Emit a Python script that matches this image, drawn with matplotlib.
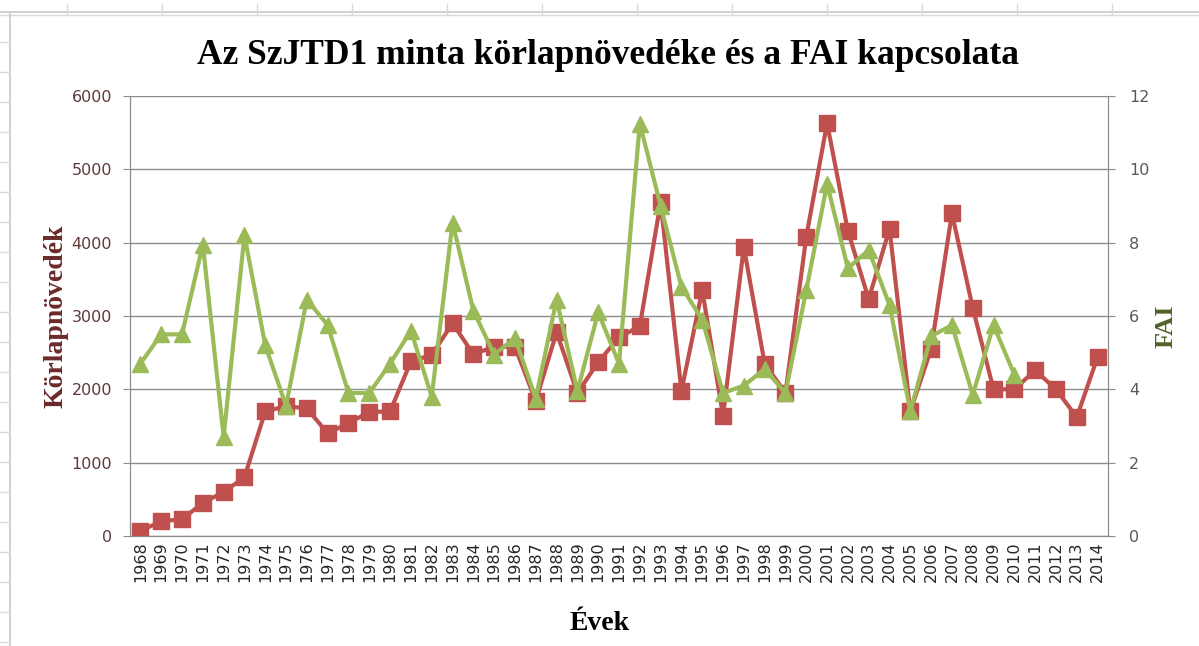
import matplotlib
matplotlib.use('Agg')
from matplotlib import pyplot as plt
from matplotlib.lines import Line2D

years = list(range(1968, 2015))

# körlapnövedék (bal tengely)
korlap = [70, 200, 230, 450, 600, 800, 1700, 1770, 1740, 1400,
          1540, 1690, 1700, 2380, 2470, 2900, 2480, 2580, 2580, 1840,
          2780, 1950, 2370, 2710, 2860, 4550, 1980, 3350, 1640, 3940,
          2350, 1950, 4080, 5630, 4160, 3230, 4190, 1700, 2550, 4400,
          3110, 2000, 2000, 2260, 2000, 1620, 2440]

# FAI (jobb tengely), 2010-ig
fai = [4.7, 5.5, 5.5, 7.95, 2.7, 8.2, 5.2, 3.55, 6.45, 5.75,
       3.9, 3.9, 4.7, 5.6, 3.8, 8.55, 6.15, 4.95, 5.4, 3.75,
       6.45, 3.95, 6.1, 4.7, 11.25, 9.0, 6.8, 5.9, 3.9, 4.1,
       4.55, 3.9, 6.7, 9.6, 7.3, 7.8, 6.3, 3.4, 5.45, 5.75,
       3.85, 5.75, 4.4]

red = '#C0504D'
green = '#9BBB59'
grid_c = '#8C8C8C'

W, H = 1199, 646
fig = plt.figure(figsize=(W / 100, H / 100), dpi=100)

# táblázat rácsvonalai a diagram mögött
fig.add_artist(Line2D([0, 1], [1 - 12 / H, 1 - 12 / H], color='#C8C8C8', lw=1.2))
fig.add_artist(Line2D([0, 1], [1 - 14.5 / H, 1 - 14.5 / H], color='#DADADA', lw=1))
for xp in range(67, W, 95):
    fig.add_artist(Line2D([xp / W, xp / W], [1 - 14 / H, 1 - 4 / H], color='#DADADA', lw=1))
fig.add_artist(Line2D([10 / W, 10 / W], [0, 1 - 14 / H], color='#C8C8C8', lw=1.2))
for yp in range(42, H, 30):
    fig.add_artist(Line2D([0, 10 / W], [1 - yp / H, 1 - yp / H], color='#DADADA', lw=1))

ax = fig.add_axes([130 / W, 1 - 536 / H, (1108 - 130) / W, (536 - 96) / H])
x = list(range(len(years)))

ax.plot(x, korlap, color=red, lw=3, marker='s', markersize=11, zorder=3)
ax.set_ylim(0, 6000)
ax.set_yticks(range(0, 6001, 1000))
ax.set_xlim(-0.5, len(years) - 0.5)
ax.set_xticks(x)
ax.set_xticklabels([str(y) for y in years], rotation=90, fontsize=11.5,
                   family='DejaVu Sans', color='#262626')
ax.yaxis.grid(True, color=grid_c, lw=1)
ax.set_axisbelow(True)
ax.tick_params(axis='y', colors=grid_c, labelcolor='#5C3A3A', labelsize=11.5, length=5, pad=8)
ax.tick_params(axis='x', length=0, pad=4)
for lbl in ax.get_yticklabels():
    lbl.set_family('DejaVu Sans')
ax.spines['top'].set_visible(False)
for s in ['left', 'right', 'bottom']:
    ax.spines[s].set_color(grid_c)

ax2 = ax.twinx()
ax2.plot(list(range(len(fai))), fai, color=green, lw=3, marker='^', markersize=11, zorder=4)
ax2.set_ylim(0, 12)
ax2.set_yticks(range(0, 13, 2))
ax2.tick_params(axis='y', colors=grid_c, labelcolor='#595959', labelsize=11.5, length=5, pad=10)
for lbl in ax2.get_yticklabels():
    lbl.set_family('DejaVu Sans')
ax2.spines['top'].set_visible(False)
for s in ['left', 'right', 'bottom']:
    ax2.spines[s].set_color(grid_c)

fig.text(608 / W, 1 - 56 / H, 'Az SzJTD1 minta körlapnövedéke és a FAI kapcsolata',
         ha='center', va='center', fontsize=25.5, fontweight='bold', family='Liberation Serif')
fig.text(56 / W, 1 - 316 / H, 'Körlapnövedék', rotation=90, ha='center', va='center',
         fontsize=20, fontweight='bold', family='Liberation Serif', color='#6B2A2A')
fig.text(1166 / W, 1 - 326 / H, 'FAI', rotation=90, ha='center', va='center',
         fontsize=19, fontweight='bold', family='Liberation Serif', color='#4F6228')
fig.text(600 / W, 1 - 623 / H, 'Évek', ha='center', va='center',
         fontsize=20, fontweight='bold', family='Liberation Serif')

plt.savefig('out.png', dpi=100)
